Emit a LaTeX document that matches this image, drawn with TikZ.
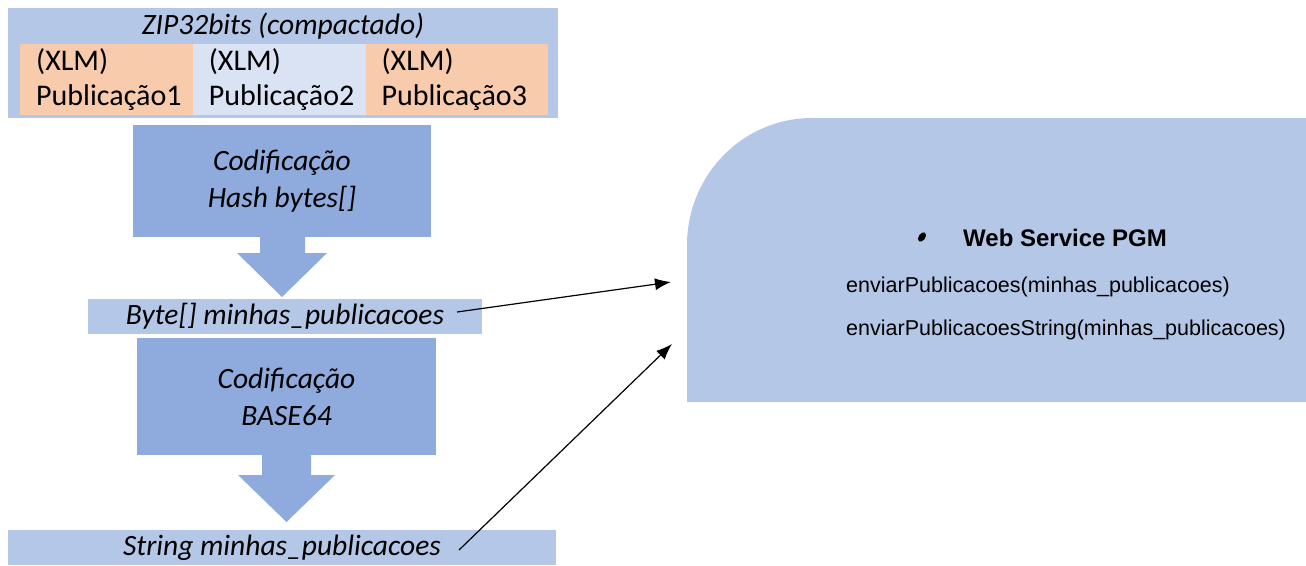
\documentclass[tikz,border=0pt]{standalone}
\usepackage{fontspec}
\setmainfont{Carlito}
\newfontfamily\arialfont{Liberation Sans}
\usetikzlibrary{arrows.meta}
\definecolor{barblue}{HTML}{B4C7E7}
\definecolor{boxblue}{HTML}{8FAADC}
\definecolor{cellorange}{HTML}{F8CBAD}
\definecolor{celllight}{HTML}{DAE3F3}
\tikzset{
  bigtext/.style={font=\fontsize{29.5}{37}\selectfont\itshape, align=center},
  cell/.style={anchor=north west, minimum width=173, minimum height=71,
    text width=150, inner xsep=16, inner ysep=0, align=left,
    font=\fontsize{30}{35}\selectfont},
  codbox/.style={fill=boxblue, inner sep=0, bigtext},
  bar/.style={fill=barblue, inner sep=0, bigtext},
  wsline/.style={anchor=base west, inner sep=0, font=\arialfont\fontsize{21.5}{26}\selectfont},
  sendarrow/.style={line width=1.2, -{Latex[length=16,width=12]}},
}
\begin{document}
\begin{tikzpicture}[x=1pt, y=-1pt]
  \useasboundingbox (0,0) rectangle (1306,565);

  % pacote zip
  \node[bar, minimum width=550, minimum height=110, anchor=north west] (zip) at (8,8) {};
  \node[bigtext, inner sep=0] (ziptitle) at (283,26) {ZIP32bits (compactado)};
  \foreach \i/\c in {1/cellorange, 2/celllight, 3/cellorange}
    \node[cell, fill=\c] (pub\i) at ({20+(\i-1)*172.7},44) {(XLM)\\Publicação\i};

  % primeira codificacao
  \node[codbox, minimum width=298, minimum height=112] (cod1) at (282,181) {Codificação\\Hash bytes[]};
  \fill[boxblue] (260,237) -- (305,237) -- (305,253) -- (327,253) -- (282,297)
    -- (237,253) -- (260,253) -- cycle;
  \node[bar, minimum width=394, minimum height=35] (bytes) at (285,316.5) {Byte[] minhas\_publicacoes};

  % segunda codificacao
  \node[codbox, minimum width=299, minimum height=117] (cod2) at (286.5,396.5) {Codificação\\BASE64};
  \fill[boxblue] (262,455) -- (311,455) -- (311,475) -- (335,475) -- (286.5,522)
    -- (238,475) -- (262,475) -- cycle;
  \node[bar, minimum width=548, minimum height=35] (str) at (282,547.5) {String minhas\_publicacoes};

  % web service
  \fill[barblue] (687,402) -- (687,245) .. controls (687,175) and (743,118) .. (812,118)
    -- (1306,118) -- (1306,402) -- cycle;
  \fill[rotate around={-35:(922,237)}] (922,237) ellipse (3.3 and 5.2);
  \node[wsline, font=\arialfont\bfseries\fontsize{24}{28}\selectfont] (wstitle) at (963,246) {Web Service PGM};
  \node[wsline] (ws1) at (846,292) {enviarPublicacoes(minhas\_publicacoes)};
  \node[wsline] (ws2) at (846,335) {enviarPublicacoesString(minhas\_publicacoes)};

  \coordinate (fromA) at (457,312);
  \coordinate (toA) at (671,282);
  \coordinate (fromB) at (459,550);
  \coordinate (toB) at (672,344);
  \draw[sendarrow] (fromA) -- (toA);
  \draw[sendarrow] (fromB) -- (toB);
\end{tikzpicture}
\end{document}
